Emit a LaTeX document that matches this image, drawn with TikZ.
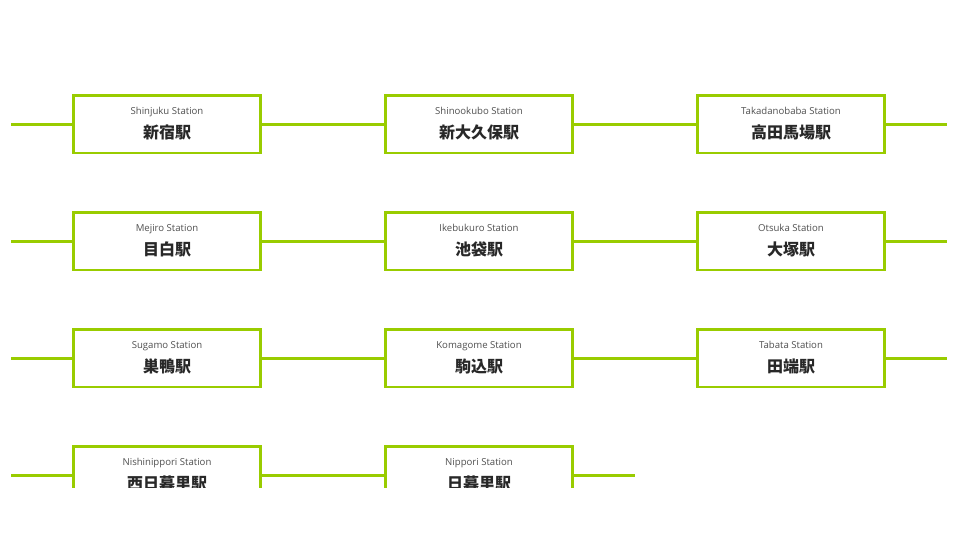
\documentclass[tikz,border=0pt]{standalone}
\usepackage{fontspec}
\setmainfont{Open Sans}
\newfontfamily\jpfont{Noto Sans CJK JP}
\definecolor{linegreen}{RGB}{153,204,0}
\definecolor{engray}{RGB}{80,80,80}
\definecolor{jpgray}{RGB}{40,40,40}

\begin{document}
\begin{tikzpicture}[
		x=1pt, y=-1pt,
		track/.style={draw=linegreen, line width=2.6pt},
		station/.style={draw=linegreen, line width=2.6pt, fill=white, minimum width=187pt, minimum height=57.5pt, inner sep=0pt, outer sep=0pt},
		en/.style={anchor=base, text=engray, font=\fontsize{9.6}{11}\selectfont, inner sep=0pt},
		jp/.style={anchor=base, text=jpgray, font=\jpfont\bfseries\fontsize{16}{18}\selectfont, inner sep=0pt}
		]
		\useasboundingbox (0,0) rectangle (974,548);
		\clip (0,0) rectangle (974,487);

		% row 1
		\coordinate (r1start) at (11,124.3);
		\coordinate (r1end) at (947,124.3);
		\node[station] (shinjuku) at (167,124.3) {};
		\node[station] (shinookubo) at (479,124.3) {};
		\node[station] (takadanobaba) at (791,124.3) {};
		\draw[track] (r1start) -- (shinjuku) -- (shinookubo) -- (takadanobaba) -- (r1end);

		% row 2
		\coordinate (r2start) at (11,241.3);
		\coordinate (r2end) at (947,241.3);
		\node[station] (mejiro) at (167,241.3) {};
		\node[station] (ikebukuro) at (479,241.3) {};
		\node[station] (otsuka) at (791,241.3) {};
		\draw[track] (r2start) -- (mejiro) -- (ikebukuro) -- (otsuka) -- (r2end);

		% row 3
		\coordinate (r3start) at (11,358.3);
		\coordinate (r3end) at (947,358.3);
		\node[station] (sugamo) at (167,358.3) {};
		\node[station] (komagome) at (479,358.3) {};
		\node[station] (tabata) at (791,358.3) {};
		\draw[track] (r3start) -- (sugamo) -- (komagome) -- (tabata) -- (r3end);

		% row 4
		\coordinate (r4start) at (11,475.3);
		\coordinate (r4end) at (635,475.3);
		\node[station] (nishinippori) at (167,475.3) {};
		\node[station] (nippori) at (479,475.3) {};
		\draw[track] (r4start) -- (nishinippori) -- (nippori) -- (r4end);

		% names
		\node[en] (shinjuku-en) at ([yshift=-18.75pt]shinjuku.north) {Shinjuku Station};
		\node[jp] (shinjuku-jp) at ([yshift=-42.5pt]shinjuku.north) {新宿駅};
		\node[en] (shinookubo-en) at ([yshift=-18.75pt]shinookubo.north) {Shinookubo Station};
		\node[jp] (shinookubo-jp) at ([yshift=-42.5pt]shinookubo.north) {新大久保駅};
		\node[en] (takadanobaba-en) at ([yshift=-18.75pt]takadanobaba.north) {Takadanobaba Station};
		\node[jp] (takadanobaba-jp) at ([yshift=-42.5pt]takadanobaba.north) {高田馬場駅};
		\node[en] (mejiro-en) at ([yshift=-18.75pt]mejiro.north) {Mejiro Station};
		\node[jp] (mejiro-jp) at ([yshift=-42.5pt]mejiro.north) {目白駅};
		\node[en] (ikebukuro-en) at ([yshift=-18.75pt]ikebukuro.north) {Ikebukuro Station};
		\node[jp] (ikebukuro-jp) at ([yshift=-42.5pt]ikebukuro.north) {池袋駅};
		\node[en] (otsuka-en) at ([yshift=-18.75pt]otsuka.north) {Otsuka Station};
		\node[jp] (otsuka-jp) at ([yshift=-42.5pt]otsuka.north) {大塚駅};
		\node[en] (sugamo-en) at ([yshift=-18.75pt]sugamo.north) {Sugamo Station};
		\node[jp] (sugamo-jp) at ([yshift=-42.5pt]sugamo.north) {巣鴨駅};
		\node[en] (komagome-en) at ([yshift=-18.75pt]komagome.north) {Komagome Station};
		\node[jp] (komagome-jp) at ([yshift=-42.5pt]komagome.north) {駒込駅};
		\node[en] (tabata-en) at ([yshift=-18.75pt]tabata.north) {Tabata Station};
		\node[jp] (tabata-jp) at ([yshift=-42.5pt]tabata.north) {田端駅};
		\node[en] (nishinippori-en) at ([yshift=-18.75pt]nishinippori.north) {Nishinippori Station};
		\node[jp] (nishinippori-jp) at ([yshift=-42.5pt]nishinippori.north) {西日暮里駅};
		\node[en] (nippori-en) at ([yshift=-18.75pt]nippori.north) {Nippori Station};
		\node[jp] (nippori-jp) at ([yshift=-42.5pt]nippori.north) {日暮里駅};
\end{tikzpicture}
\end{document}
